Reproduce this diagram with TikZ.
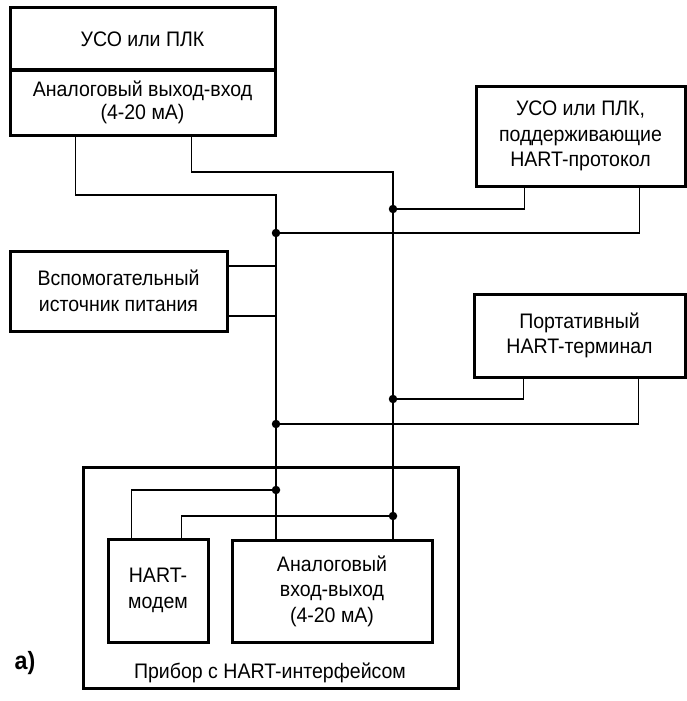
\documentclass[tikz,border=0pt]{standalone}
\usepackage{fontspec}
\setmainfont[FakeStretch=0.93]{Liberation Sans}
\usetikzlibrary{calc}
\begin{document}
\begin{tikzpicture}[x=1pt,y=-1pt,
  box/.style={draw,line width=3pt,rectangle,inner sep=0pt,align=center,font=\fontsize{21}{25.5}\selectfont},
  wire/.style={line width=1.5pt},
  dot/.style={circle,fill,inner sep=0pt,minimum size=8.5pt},
  lbl/.style={font=\fontsize{21}{25.5}\selectfont,align=center}]
\useasboundingbox (0,0) rectangle (686,701);
% boxes
\node[box,minimum width=265pt,minimum height=62pt] (uso1) at (142.5,39) {УСО или ПЛК};
\node[box,minimum width=265pt,minimum height=65pt,font=\fontsize{21}{22.5}\selectfont] (uso2) at (142.5,102.5) {Аналоговый выход-вход\\(4-20 мА)};
\node[box,minimum width=209pt,minimum height=100pt] (plc) at (580.5,136) {УСО или ПЛК,\\поддерживающие\\HART-протокол};
\node[box,minimum width=217pt,minimum height=80pt] (psu) at (118.5,291) {Вспомогательный\\источник питания};
\node[box,minimum width=211pt,minimum height=83pt] (term) at (579.5,335.5) {Портативный\\HART-терминал};
\node[box,minimum width=375pt,minimum height=221pt] (dev) at (270.5,577.5) {};
\node[box,minimum width=100pt,minimum height=103pt] (modem) at (158,590.5) {HART-\\модем};
\node[box,minimum width=200pt,minimum height=102pt] (ana) at (332,591) {Аналоговый\\вход-выход\\(4-20 мА)};
\node[lbl] (devlbl) at (270,673) {Прибор с HART-интерфейсом};
\node[font=\bfseries\fontsize{25}{28}\selectfont] (tag) at (25,663) {а)};
% junctions
\coordinate (d1) at (393,209);
\coordinate (d2) at (276,233);
\coordinate (d3) at (393,399);
\coordinate (d4) at (276,424);
\coordinate (d5) at (276,490);
\coordinate (d6) at (393,516);
% wires
\draw[wire] ([xshift=67pt]uso2.south west) |- ($(d2)+(0,-38)$) -- (d2);
\draw[wire] ([xshift=183pt]uso2.south west) |- ($(d1)+(0,-37)$) -- (d1);
\draw[wire] ([xshift=50pt]plc.south west) |- (d1);
\draw[wire] ([xshift=165pt]plc.south west) |- (d2);
\draw[wire] ([yshift=25pt]psu.east) -| (d2);
\draw[wire] ([yshift=-25pt]psu.east) -| (d4);
\draw[wire] ([xshift=51pt]term.south west) |- (d3);
\draw[wire] ([xshift=166pt]term.south west) |- (d4);
\draw[wire] (d2) -- (d4) -- (d5) -- (ana.north -| d5);
\draw[wire] (d1) -- (d3) -- (d6) -- (ana.north -| d6);
\draw[wire] (d5) -| ([xshift=25pt]modem.north west);
\draw[wire] (d6) -| ([xshift=75pt]modem.north west);
\foreach \d in {d1,d2,d3,d4,d5,d6} \node[dot] at (\d) {};
\end{tikzpicture}
\end{document}
